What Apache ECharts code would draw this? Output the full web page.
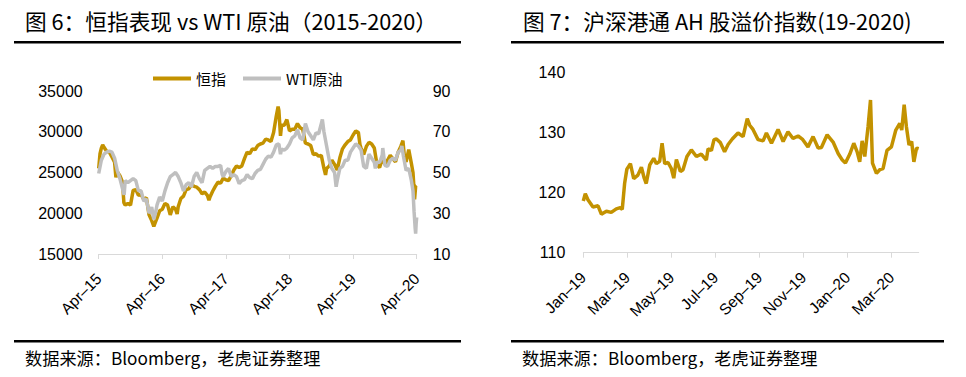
<!DOCTYPE html>
<html><head><meta charset="utf-8">
<script src="https://cdn.jsdelivr.net/npm/echarts@6/dist/echarts.min.js"></script>
<style>html,body{margin:0;padding:0;background:#fff}#c{width:966px;height:377px}</style>
</head><body><div id="c"></div>
<script>
// ---------- Left chart: HSI vs WTI (x = months since Apr-2015) ----------
const leftXLabels = ['Apr–15','Apr–16','Apr–17','Apr–18','Apr–19','Apr–20'];
const leftXTicks = [0, 12, 24, 36, 48, 60];
const hsiLeftTicks = [15000, 20000, 25000, 30000, 35000];
const wtiRightTicks = [10, 30, 50, 70, 90];

const hsiMonth = [0,0.25,0.5,0.75,1,1.5,2,2.5,3,3.25,3.5,4,4.5,4.75,5,5.5,6,6.5,7,7.5,8,8.5,9,9.5,10,10.4,10.7,11,11.5,12,12.5,13,13.5,14,14.5,14.8,15,15.5,16,16.5,17,17.5,18,18.5,19,19.5,20,20.5,20.8,21,21.5,22,22.5,23,23.5,24,24.5,25,25.5,26,26.5,27,27.5,28,28.5,29,29.5,30,30.5,31,31.5,32,32.5,33,33.5,33.85,34,34.3,34.5,35,35.5,36,36.5,37,37.5,38,38.5,39,39.5,40,40.5,41,41.5,42,42.5,42.8,43,43.5,44,44.5,45,45.5,46,46.5,47,47.5,48,48.5,49,49.3,49.5,50,50.5,51,51.5,52,52.5,53,53.5,54,54.5,55,55.5,56,56.5,57,57.4,57.7,58,58.5,59,59.3,59.5,59.6,59.8,60];
const hsiValue = [25500,27300,28000,28400,28100,27600,27500,26900,26250,24400,25100,24600,23800,21300,21000,21200,21000,22800,22900,22200,22300,21700,21900,19800,19100,18400,18900,19400,20300,20500,21200,21000,19800,20800,20500,19900,20800,21800,22100,22900,23000,23500,23300,23200,22900,22400,22600,22200,21600,22000,22700,23300,23800,23700,24300,24100,24000,24600,25300,25800,25600,25800,26700,27500,27300,27900,27800,28300,28500,28600,29100,29000,28800,29900,31900,33100,32600,29500,30800,30800,31500,30100,30300,30300,31000,30500,30300,28600,28500,28300,27200,27300,27000,27100,25500,24700,25500,25800,26500,26000,25300,26800,27900,28400,28800,29000,29600,30100,29900,28400,28000,27200,28200,28700,28500,28000,26000,25600,26700,26000,26500,27100,26700,26300,27500,28200,28900,26800,26300,27800,26100,25000,23000,21700,23300,23400];

const wtiMonth = [0,0.5,1,1.5,2,2.5,3,3.5,4,4.5,4.8,5,5.5,6,6.5,7,7.5,8,8.5,9,9.5,10,10.4,10.7,11,11.5,12,12.5,13,13.5,14,14.5,15,15.5,16,16.5,17,17.5,18,18.5,19,19.5,20,20.5,21,21.5,22,22.5,23,23.3,23.5,24,24.5,25,25.5,26,26.5,27,27.5,28,28.5,29,29.5,30,30.5,31,31.5,32,32.5,33,33.5,34,34.3,34.5,35,35.5,36,36.5,37,37.5,38,38.5,39,39.5,40,40.5,41,41.5,42,42.2,42.5,43,43.5,44,44.5,44.8,45,45.5,46,46.5,47,47.5,48,48.5,49,49.5,50,50.5,51,51.5,52,52.2,52.5,53,53.5,53.6,54,54.5,55,55.5,56,56.5,57,57.2,57.5,58,58.5,59,59.3,59.5,59.7,59.8,59.9,60];
const wtiValue = [49.5,56,59,60,60.5,60,57,51,47,42,39,46,45,46,47,46,41,41,36,37,30,33,27,30,34,38,36,41,45,48,49,50,48,45,41,44,45,43,48,50,47,45,51,52,53,52,53,53,53.5,49,48,50.5,52,48,49,48,44.5,46,46.5,49,47.5,47,49.5,51,51.5,54,56.5,58,57.5,60,63.5,64,59,61.5,61,62,64,67,68,71,67,66,74,70,68,66,69.5,69,74,76,70,63,56,52,50,43,46,52,53,56,56,60,62,64,63,61,53,52,59,57,55,52,55,55,58.5,62,53.5,53,56,57,56,60,61,63,58,51,52,46,41,31,23,20,25,28];

// ---------- Right chart: AH premium index (x = months since Jan-2019) ----------
const rightXLabels = ['Jan–19','Mar–19','May–19','Jul–19','Sep–19','Nov–19','Jan–20','Mar–20'];
const rightXTicks = [0, 2, 4, 6, 8, 10, 12, 14];
const ahLeftTicks = [110, 120, 130, 140];
const ahMonth = [0,0.09,0.21,0.44,0.67,0.82,1.05,1.27,1.5,1.68,1.77,1.88,1.98,2.14,2.29,2.48,2.64,2.76,2.86,3.02,3.2,3.32,3.47,3.58,3.7,3.85,4.0,4.11,4.23,4.41,4.53,4.71,4.91,5.14,5.36,5.59,5.67,5.82,5.94,6.05,6.23,6.42,6.58,6.77,7.03,7.26,7.45,7.56,7.71,7.94,8.17,8.32,8.55,8.85,9.08,9.3,9.53,9.76,9.95,10.21,10.44,10.67,10.82,11.08,11.35,11.58,11.77,11.91,12.11,12.29,12.44,12.56,12.67,12.79,12.94,13.05,13.14,13.32,13.47,13.62,13.8,14.0,14.2,14.38,14.47,14.58,14.68,14.8,14.92,15.02,15.14,15.24];
const ahValue = [118.6,119.8,118.8,117.6,117.8,116.4,116.9,116.7,117.3,117.5,117.2,121.6,123.9,124.8,122.3,122.9,124.2,122.5,121.5,124.6,125.7,124.8,125.2,128.2,124.8,125.0,124.0,122.4,125.5,123.5,123.8,126.0,127.1,126.0,126.4,125.4,127.3,127.0,128.8,128.9,128.3,126.8,128.0,128.9,129.9,129.3,132.3,131.2,130.5,128.8,128.6,129.9,128.2,130.5,128.5,130.1,129.0,129.4,128.9,127.6,129.3,127.4,127.5,129.6,128.4,126.5,125.4,124.9,126.4,128.2,126.8,125.1,128.6,126.0,131.0,135.4,124.9,123.2,123.8,124.0,127.0,127.6,130.4,131.5,130.4,134.6,131.0,127.9,128.5,125.1,127.4,127.3];

const GOLD = '#C39200', GRAY = '#BFBFBF', AXIS = '#D9D9D9';
const LATIN = '"Liberation Sans", Arial, sans-serif';
const CJK = '"Noto Sans CJK SC", "Liberation Sans", sans-serif';

const zip = (a, b) => a.map((x, i) => [x, b[i]]);

const chart = echarts.init(document.getElementById('c'), null, {renderer: 'svg', width: 966, height: 377});

const xCommon = (gridIndex, min, max, ticks, labels, step, margin) => ({
  type: 'value', gridIndex, min, max,
  axisLine: {show: true, onZero: false, lineStyle: {color: AXIS, width: 1}},
  axisTick: {show: true, length: 5, lineStyle: {color: AXIS}, customValues: ticks},
  axisLabel: {customValues: ticks, rotate: 45, margin, fontSize: 15.5, color: '#000', fontFamily: LATIN,
    formatter: v => labels[Math.round(v / step)] || ''},
  splitLine: {show: false}
});
const yCommon = (gridIndex, position, min, max, ticks, margin) => ({
  type: 'value', gridIndex, position, min, max,
  axisLine: {show: false}, axisTick: {show: false}, splitLine: {show: false},
  axisLabel: {customValues: ticks, fontSize: 16, color: '#000', fontFamily: LATIN, margin,
    formatter: v => String(v)}
});

chart.setOption({
  animation: false,
  backgroundColor: '#fff',
  grid: [
    {left: 98.7, right: 966 - 416.7, top: 91, bottom: 377 - 254},
    {left: 583.3, right: 966 - 918.7, top: 72.3, bottom: 377 - 252.7}
  ],
  legend: {
    left: 148, top: 66, icon: 'rect', itemWidth: 38, itemHeight: 4, itemGap: 17,
    textStyle: {fontSize: 15, color: '#000', fontFamily: CJK},
    data: ['恒指', 'WTI原油']
  },
  xAxis: [
    xCommon(0, 0, 60, leftXTicks, leftXLabels, 12, 22),
    xCommon(1, 0, 15.24, rightXTicks, rightXLabels, 2, 22)
  ],
  yAxis: [
    yCommon(0, 'left', 15000, 35000, hsiLeftTicks, 16),
    yCommon(0, 'right', 10, 90, wtiRightTicks, 16),
    yCommon(1, 'left', 110, 140, ahLeftTicks, 18)
  ],
  series: [
    {name: '恒指', type: 'line', xAxisIndex: 0, yAxisIndex: 0, data: zip(hsiMonth, hsiValue),
     showSymbol: false, lineStyle: {color: GOLD, width: 3.5}, itemStyle: {color: GOLD}},
    {name: 'WTI原油', type: 'line', xAxisIndex: 0, yAxisIndex: 1, data: zip(wtiMonth, wtiValue),
     showSymbol: false, lineStyle: {color: GRAY, width: 3.5}, itemStyle: {color: GRAY}},
    {name: 'AH溢价', type: 'line', xAxisIndex: 1, yAxisIndex: 2, data: zip(ahMonth, ahValue),
     showSymbol: false, lineStyle: {color: GOLD, width: 3.5}, itemStyle: {color: GOLD}}
  ],
  graphic: [
    {type: 'text', left: 25, top: 10, style: {text: '图 6：恒指表现 vs WTI 原油（2015-2020）', font: '21.7px ' + CJK, fill: '#000'}},
    {type: 'text', left: 523, top: 10, style: {text: '图 7：沪深港通 AH 股溢价指数(19-2020)', font: '21.7px ' + CJK, fill: '#000'}},
    {type: 'rect', shape: {x: 14, y: 41, width: 447, height: 2.5}, style: {fill: '#000'}},
    {type: 'rect', shape: {x: 511, y: 41, width: 433, height: 2.5}, style: {fill: '#000'}},
    {type: 'rect', shape: {x: 14, y: 340, width: 447, height: 2.5}, style: {fill: '#000'}},
    {type: 'rect', shape: {x: 511, y: 340, width: 433, height: 2.5}, style: {fill: '#000'}},
    {type: 'text', left: 25, top: 349, style: {text: '数据来源：Bloomberg，老虎证券整理', font: '17.2px ' + CJK, fill: '#000'}},
    {type: 'text', left: 522, top: 349, style: {text: '数据来源：Bloomberg，老虎证券整理', font: '17.2px ' + CJK, fill: '#000'}}
  ]
});
</script></body></html>
